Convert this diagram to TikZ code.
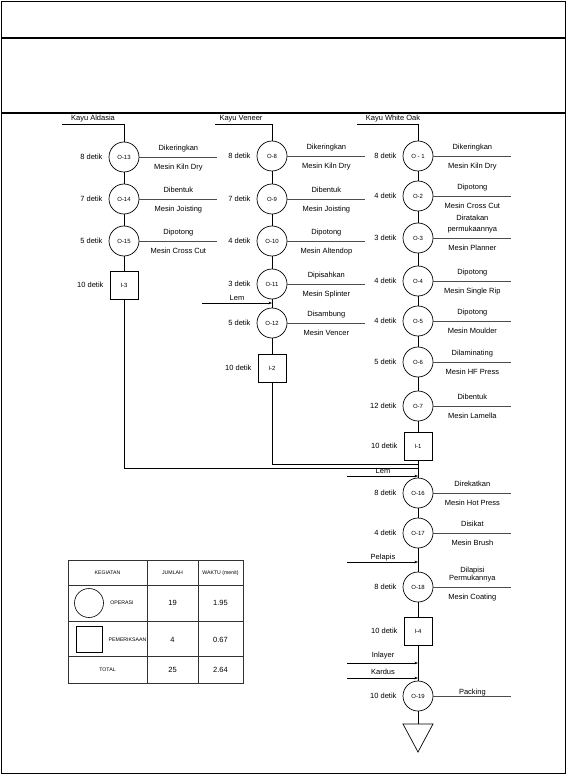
\documentclass[tikz,border=0pt]{standalone}
\usepackage{fontspec}
\setmainfont{Liberation Sans}
\usetikzlibrary{arrows.meta}
\tikzset{
  txt/.style={inner sep=0pt,font=\fontsize{7.5}{8.5}\selectfont},
  small/.style={inner sep=0pt,font=\fontsize{5.2}{6}\selectfont},
  opnode/.style={circle,draw,line width=0.7pt,minimum size=30pt,inner sep=0pt,font=\fontsize{6}{6.5}\selectfont},
  insnode/.style={rectangle,draw,line width=0.7pt,minimum size=28pt,inner sep=0pt,font=\fontsize{6}{6.5}\selectfont},
  flow/.style={line width=0.7pt},
  procline/.style={line width=0.7pt,draw=black!70},
  inarrow/.style={line width=0.7pt,-{Stealth[length=3.5pt,width=2.6pt]}},
  tline/.style={line width=0.5pt,draw=black!80}
}
\newcommand\procnode[7]{%
  \node[opnode] (#1) at (#2,#3) {#4};
  \node[txt,anchor=east] at ([xshift=-6pt]#1.west) {#5};
  \coordinate (#1r) at ([xshift=78pt]#1.east);
  \draw[procline] (#1.east) -- (#1r);
  \node[txt,anchor=base] at ([xshift=39pt,yshift=6.5pt]#1.east) {#6};
  \node[txt,anchor=base] at ([xshift=39pt,yshift=-12.5pt]#1.east) {#7};
}
\newcommand\inspnode[5]{%
  \node[insnode] (#1) at (#2,#3) {#4};
  \node[txt,anchor=east] at ([xshift=-6pt]#1.west) {#5};
}
\begin{document}
\begin{tikzpicture}[x=1pt,y=-1pt]
\useasboundingbox (0,0) rectangle (567,775);
% frame
\draw[line width=1.1pt] (1.5,1.5) rectangle (565.5,773.5);
\draw[line width=1.1pt] (1.5,38) -- (565.5,38);
\draw[line width=1.1pt] (1.5,113) -- (565.5,113);

% ---------- column 1: Kayu Aldasia
\coordinate (srcA) at (62,124);
\node[txt,anchor=base] at (93,121) {Kayu Aldasia};
\procnode{O13}{124}{157}{O-13}{8 detik}{Dikeringkan}{Mesin Kiln Dry}
\procnode{O14}{124}{199}{O-14}{7 detik}{Dibentuk}{Mesin Joisting}
\procnode{O15}{124}{241}{O-15}{5 detik}{Dipotong}{Mesin Cross Cut}
\inspnode{I3}{124}{285}{I-3}{10 detik}
\draw[flow] (srcA) -| (O13);
\draw[flow] (O13) -- (O14) -- (O15) -- (I3);

% ---------- column 2: Kayu Veneer
\coordinate (srcB) at (215,124);
\node[txt,anchor=base] at (241,121) {Kayu Veneer};
\procnode{O8}{272}{156}{O-8}{8 detik}{Dikeringkan}{Mesin Kiln Dry}
\procnode{O9}{272}{199}{O-9}{7 detik}{Dibentuk}{Mesin Joisting}
\procnode{O10}{272}{241}{O-10}{4 detik}{Dipotong}{Mesin Altendop}
\procnode{O11}{272}{284}{O-11}{3 detik}{Dipisahkan}{Mesin Splinter}
\procnode{O12}{272}{323}{O-12}{5 detik}{Disambung}{Mesin Vencer}
\inspnode{I2}{272}{368}{I-2}{10 detik}
\draw[flow] (srcB) -| (O8);
\draw[flow] (O8) -- (O9) -- (O10) -- (O11) -- (O12) -- (I2);
\coordinate (lemAsrc) at (202,303);
\coordinate (lemAin) at (272,303);
\node[txt,anchor=base] at (237,300.5) {Lem};
\draw[inarrow] (lemAsrc) -- (lemAin);

% ---------- column 3: Kayu White Oak
\coordinate (srcC) at (357,124);
\node[txt,anchor=base] at (393,121) {Kayu White Oak};
\procnode{O1}{418}{156}{O - 1}{8 detik}{Dikeringkan}{Mesin Kiln Dry}
\procnode{O2}{418}{196}{O-2}{4 detik}{Dipotong}{Mesin Cross Cut}
\procnode{O3}{418}{238}{O-3}{3 detik}{permukaannya}{Mesin Planner}
\node[txt,anchor=base] at ([xshift=39pt,yshift=17pt]O3.east) {Diratakan};
\procnode{O4}{418}{281}{O-4}{4 detik}{Dipotong}{Mesin Single Rip}
\procnode{O5}{418}{321}{O-5}{4 detik}{Dipotong}{Mesin Moulder}
\procnode{O6}{418}{362}{O-6}{5 detik}{Dilaminating}{Mesin HF Press}
\procnode{O7}{418}{406}{O-7}{12 detik}{Dibentuk}{Mesin Lamella}
\inspnode{I1}{418}{446}{I-1}{10 detik}
\procnode{O16}{418}{493}{O-16}{8 detik}{Direkatkan}{Mesin Hot Press}
\procnode{O17}{418}{533}{O-17}{4 detik}{Disikat}{Mesin Brush}
\procnode{O18}{418}{587}{O-18}{8 detik}{Permukannya}{Mesin Coating}
\node[txt,anchor=base] at ([xshift=39pt,yshift=15pt]O18.east) {Dilapisi};
\inspnode{I4}{418}{631}{I-4}{10 detik}
\node[opnode] (O19) at (418,696) {O-19};
\node[txt,anchor=east] at ([xshift=-6pt]O19.west) {10 detik};
\coordinate (O19r) at ([xshift=78pt]O19.east);
\draw[procline] (O19.east) -- (O19r);
\node[txt,anchor=base] at ([xshift=39pt,yshift=1.5pt]O19.east) {Packing};

\draw[flow] (srcC) -| (O1);
\draw[flow] (O1) -- (O2) -- (O3) -- (O4) -- (O5) -- (O6) -- (O7) -- (I1) -- (O16) -- (O17) -- (O18) -- (I4) -- (O19);

% merging lines
\coordinate (mergeB) at (418,464);
\coordinate (mergeA) at (418,468);
\draw[flow] (I2) |- (mergeB);
\draw[flow] (I3) |- (mergeA);

% input arrows
\coordinate (lemBsrc) at (347,476);
\coordinate (lemBin) at (418,476);
\node[txt,anchor=base] at (383,473.5) {Lem};
\draw[inarrow] (lemBsrc) -- (lemBin);
\coordinate (pelsrc) at (347,562);
\coordinate (pelin) at (418,562);
\node[txt,anchor=base] at (383,559) {Pelapis};
\draw[inarrow] (pelsrc) -- (pelin);
\coordinate (inlsrc) at (347,663);
\coordinate (inlin) at (418,663);
\node[txt,anchor=base] at (383,657.5) {Inlayer};
\draw[inarrow] (inlsrc) -- (inlin);
\coordinate (karsrc) at (347,678);
\coordinate (karin) at (418,678);
\node[txt,anchor=base] at (383,674.5) {Kardus};
\draw[inarrow] (karsrc) -- (karin);

% storage triangle
\coordinate (store) at (418,724);
\draw[flow] (O19) -- (store);
\draw[flow] (403,724) -- (433,724) -- (418,752) -- cycle;

% ---------- legend table
\draw[tline] (68,560) rectangle (243,683);
\draw[tline] (147,560) -- (147,683);
\draw[tline] (198,560) -- (198,683);
\draw[tline] (68,585) -- (243,585);
\draw[tline] (68,621) -- (243,621);
\draw[tline] (68,656) -- (243,656);
\node[small] at (107.5,573) {KEGIATAN};
\node[small] at (172.5,573) {JUMLAH};
\node[small] at (220.5,573) {WAKTU (menit)};
\node[circle,draw,line width=0.6pt,minimum size=29pt,inner sep=0pt] (legop) at (89,603) {};
\node[small] at (122,603) {OPERASI};
\node[txt] at (172.5,603) {19};
\node[txt] at (220.5,603) {1.95};
\node[rectangle,draw,line width=0.6pt,minimum size=26pt,inner sep=0pt] (legins) at (89,639.5) {};
\node[small,anchor=east] at (146.5,639.5) {PEMERIKSAAN};
\node[txt] at (172.5,639.5) {4};
\node[txt] at (220.5,639.5) {0.67};
\node[small] at (107.5,670) {TOTAL};
\node[txt] at (172.5,670) {25};
\node[txt] at (220.5,670) {2.64};
\end{tikzpicture}
\end{document}
